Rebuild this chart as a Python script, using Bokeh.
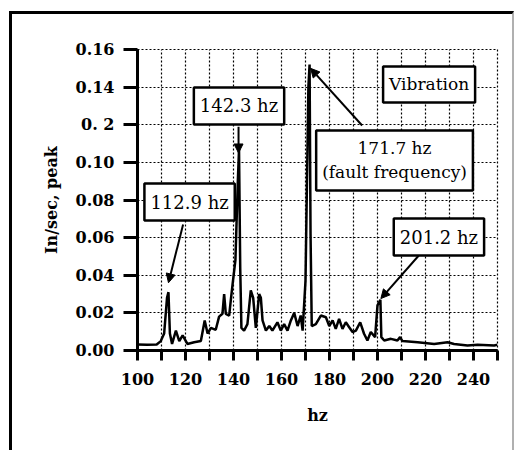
from bokeh.plotting import figure
from bokeh.models import Label, Arrow, NormalHead, FixedTicker, Range1d
from bokeh.embed import file_html
from bokeh.resources import INLINE

# ---- data ----
hz = [100, 104, 108, 109.7, 111.1, 112.3, 112.9, 113.5, 114.4, 116.0, 117.4,
      118.8, 120.8, 123.6, 126.4, 128.0, 129.2, 130.6, 132.6, 134.0, 135.4,
      136.1, 136.8, 138.2, 138.9, 139.6, 140.8, 141.8, 142.3, 142.8, 143.3,
      144.4, 145.8, 147.2, 148.2, 149.3, 150.7, 151.4, 152.1, 153.5, 154.9,
      156.2, 158.3, 159.7, 161.1, 162.5, 163.9, 165.3, 166.7, 168.0, 168.8,
      170.0, 171.2, 171.7, 172.1, 172.6, 174.3, 176.4, 178.5, 179.9, 181.3,
      182.6, 184.0, 185.4, 186.8, 188.2, 189.6, 191.0, 192.8, 194.4, 195.8,
      197.2, 199.0, 200.0, 201.2, 201.6, 202.8, 205.6, 208.3, 209.4, 210.4,
      216.7, 223.6, 229.2, 231.9, 237.5, 241.7, 248.6, 250]
amp = [0.0032, 0.0030, 0.0032, 0.0050, 0.0090, 0.0280, 0.0310, 0.0090, 0.0035,
       0.0106, 0.0050, 0.0080, 0.0035, 0.0044, 0.0050, 0.0160, 0.0090, 0.0120,
       0.0110, 0.0180, 0.0195, 0.0300, 0.0195, 0.0186, 0.0270, 0.0350, 0.0480,
       0.0900, 0.1070, 0.0440, 0.0120, 0.0106, 0.0140, 0.0320, 0.0280, 0.0120,
       0.0300, 0.0280, 0.0160, 0.0106, 0.0130, 0.0106, 0.0150, 0.0106, 0.0140,
       0.0106, 0.0160, 0.0200, 0.0130, 0.0186, 0.0106, 0.0370, 0.1400, 0.1520,
       0.0620, 0.0130, 0.0140, 0.0186, 0.0177, 0.0130, 0.0160, 0.0115, 0.0168,
       0.0115, 0.0150, 0.0124, 0.0098, 0.0106, 0.0150, 0.0089, 0.0053, 0.0098,
       0.0071, 0.0240, 0.0270, 0.0071, 0.0053, 0.0062, 0.0053, 0.0071, 0.0050,
       0.0044, 0.0035, 0.0044, 0.0035, 0.0027, 0.0030, 0.0027, 0.0030]

x_major = [100, 120, 140, 160, 180, 200, 220, 240]
x_minor = [110, 130, 150, 170, 190, 210, 230, 250]
y_ticks = [0.00, 0.02, 0.04, 0.06, 0.08, 0.10, 0.12, 0.14, 0.16]
y_tick_labels = ["0.00", "0.02", "0.04", "0.06", "0.08", "0.10", "0. 2",
                 "0.14", "0.16"]

peak_labels = ["112.9 hz", "142.3 hz", "171.7 hz\n(fault frequency)", "201.2 hz"]
peak_label_pos = [(121.7, 0.0789), (142.3, 0.130), (207.1, 0.101), (225.6, 0.0603)]
arrow_start = [(119.0, 0.067), (142.1, 0.119), (193.6, 0.1196), (217.2, 0.0505)]
arrow_end = [(112.9, 0.036), (142.1, 0.105), (172.1, 0.150), (201.4, 0.0276)]
title_box = ("Vibration", 221.5, 0.1414)

FONT = "DejaVu Serif"

p = figure(width=505, height=439, output_backend="svg", toolbar_location=None,
           x_range=Range1d(100, 250), y_range=Range1d(0, 0.16),
           min_border_left=125, min_border_right=20, min_border_top=35,
           min_border_bottom=103)
p.styles = {"margin-left": "9px", "margin-top": "11px",
            "border-left": "3px solid black", "border-top": "3px solid black",
            "border-right": "2px solid #b0b0b0"}
p.background_fill_color = "white"
p.border_fill_color = "white"
p.outline_line_color = "black"
p.outline_line_dash = "2 2"
p.outline_line_width = 1.2

# axes
p.xaxis.ticker = FixedTicker(ticks=x_major, minor_ticks=x_minor)
p.yaxis.ticker = FixedTicker(ticks=y_ticks, minor_ticks=[])
p.yaxis.major_label_overrides = {t: l for t, l in zip(y_ticks, y_tick_labels)}
for ax in (p.xaxis, p.yaxis):
    ax.axis_line_width = 3
    ax.axis_line_color = "black"
    ax.major_tick_line_width = 3
    ax.minor_tick_line_width = 3
    ax.major_tick_in = 0
    ax.minor_tick_in = 0
    ax.major_label_text_font = FONT
    ax.major_label_text_font_size = "16px"
    ax.major_label_text_font_style = "bold"
    ax.major_label_text_color = "black"
    ax.axis_label_text_font = FONT
    ax.axis_label_text_font_size = "16px"
    ax.axis_label_text_font_style = "bold"
    ax.axis_label_text_color = "black"
p.xaxis.major_tick_out = 10
p.xaxis.minor_tick_out = 10
p.xaxis.major_label_standoff = 12
p.yaxis.major_tick_out = 14
p.yaxis.minor_tick_out = 0
p.yaxis.major_label_standoff = 9
p.xaxis.axis_label = "hz"
p.xaxis.axis_label_standoff = 18
p.yaxis.axis_label = "In/sec, peak"
p.yaxis.axis_label_standoff = 12

# grid
for g in (p.xgrid, p.ygrid):
    g.grid_line_color = "black"
    g.grid_line_dash = "2 2"
    g.grid_line_width = 1.2
p.xgrid.minor_grid_line_color = "black"
p.xgrid.minor_grid_line_dash = "2 2"
p.xgrid.minor_grid_line_width = 1.2

# spectrum
p.line(hz, amp, line_color="black", line_width=2.5)

# arrows
for (xs, ys), (xe, ye) in zip(arrow_start, arrow_end):
    p.add_layout(Arrow(x_start=xs, y_start=ys, x_end=xe, y_end=ye,
                       line_color="black", line_width=2,
                       end=NormalHead(size=9, fill_color="black",
                                      line_color="black")))

# labelled boxes
def box(text, x, y, size="18px"):
    p.add_layout(Label(x=x, y=y, text=text, text_align="center",
                       text_baseline="middle", text_font=FONT,
                       text_font_size=size, text_color="black",
                       background_fill_color="white",
                       border_line_color="black", border_line_width=2.5,
                       padding=(6, 8)))

for t, (x, y) in zip(peak_labels, peak_label_pos):
    box(t, x, y, "17px" if "\n" in t else "18px")
box(title_box[0], title_box[1], title_box[2], "17px")

open("out.html", "w").write(file_html(p, INLINE))
